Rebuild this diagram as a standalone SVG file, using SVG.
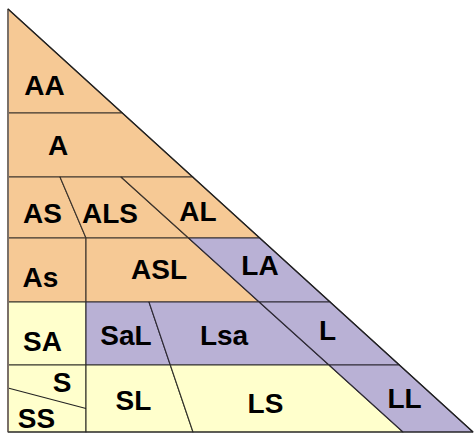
<svg xmlns="http://www.w3.org/2000/svg" width="474" height="433" viewBox="0 0 474 433">
<style>
.o{fill:#F6C995;stroke:#3d342c;stroke-width:1.1;stroke-linejoin:round}
.p{fill:#B9B1D5;stroke:#2e2a35;stroke-width:1.1;stroke-linejoin:round}
.y{fill:#FFFFCC;stroke:#33332a;stroke-width:1.1;stroke-linejoin:round}
text{font-family:"Liberation Sans",Arial,sans-serif;font-weight:bold;font-size:28px;fill:#000;text-anchor:middle}
.ln{stroke:#222;stroke-width:1.1;fill:none}
</style>
<rect width="474" height="433" fill="#fff"/>
<g id="AA"><polygon class="o" points="8,9 122.3,113 8,113"/><text x="44.5" y="95">AA</text></g>
<g id="A"><polygon class="o" points="8,113 122.3,113 192.7,177 8,177"/><text x="58" y="155">A</text></g>
<g id="AS"><polygon class="o" points="8,177 60,177 86,238 8,238"/><text x="42.5" y="223">AS</text></g>
<g id="ALS"><polygon class="o" points="60,177 121,177 188.5,238 86,238"/><text x="110" y="223">ALS</text></g>
<g id="AL"><polygon class="o" points="121,177 192.7,177 259.7,238 188.5,238"/><text x="198" y="221">AL</text></g>
<g id="As"><polygon class="o" points="8,238 86,238 86,302 8,302"/><text x="40.5" y="287">As</text></g>
<g id="ASL"><polygon class="o" points="86,238 188.5,238 259.2,302 86,302"/><text x="159" y="279">ASL</text></g>
<g id="LA"><polygon class="p" points="188.5,238 259.7,238 330.1,302 259.2,302"/><text x="260" y="275">LA</text></g>
<g id="SA"><polygon class="y" points="8,302 86,302 86,365 8,365"/><text x="42.5" y="351">SA</text></g>
<g id="SaL"><polygon class="p" points="86,302 149,302 170.3,365 86,365"/><text x="126" y="345">SaL</text></g>
<g id="Lsa"><polygon class="p" points="149,302 259.2,302 329,365 170.3,365"/><text x="224" y="345">Lsa</text></g>
<g id="L"><polygon class="p" points="259.2,302 330.1,302 399.4,365 329,365"/><text x="327.5" y="340">L</text></g>
<g id="S-SS"><polygon class="y" points="8,365 86,365 86,432 8,432"/><text x="62" y="392">S</text><text x="36.5" y="428">SS</text></g>
<g id="SL"><polygon class="y" points="86,365 170.3,365 193,432 86,432"/><text x="133.5" y="410">SL</text></g>
<g id="LS"><polygon class="y" points="170.3,365 329,365 403,432 193,432"/><text x="265.5" y="413">LS</text></g>
<g id="LL"><polygon class="p" points="329,365 399.4,365 473,432 403,432"/><text x="404.5" y="408">LL</text></g>
<g id="connectors">
<line class="ln" x1="8" y1="388" x2="86" y2="408.5"/>
<line x1="8" y1="9" x2="8" y2="432" stroke="#7a7068" stroke-width="2"/>
<line class="ln" x1="8" y1="432" x2="473" y2="432"/>
<line class="ln" x1="8" y1="9" x2="473" y2="432"/>
</g>
</svg>
